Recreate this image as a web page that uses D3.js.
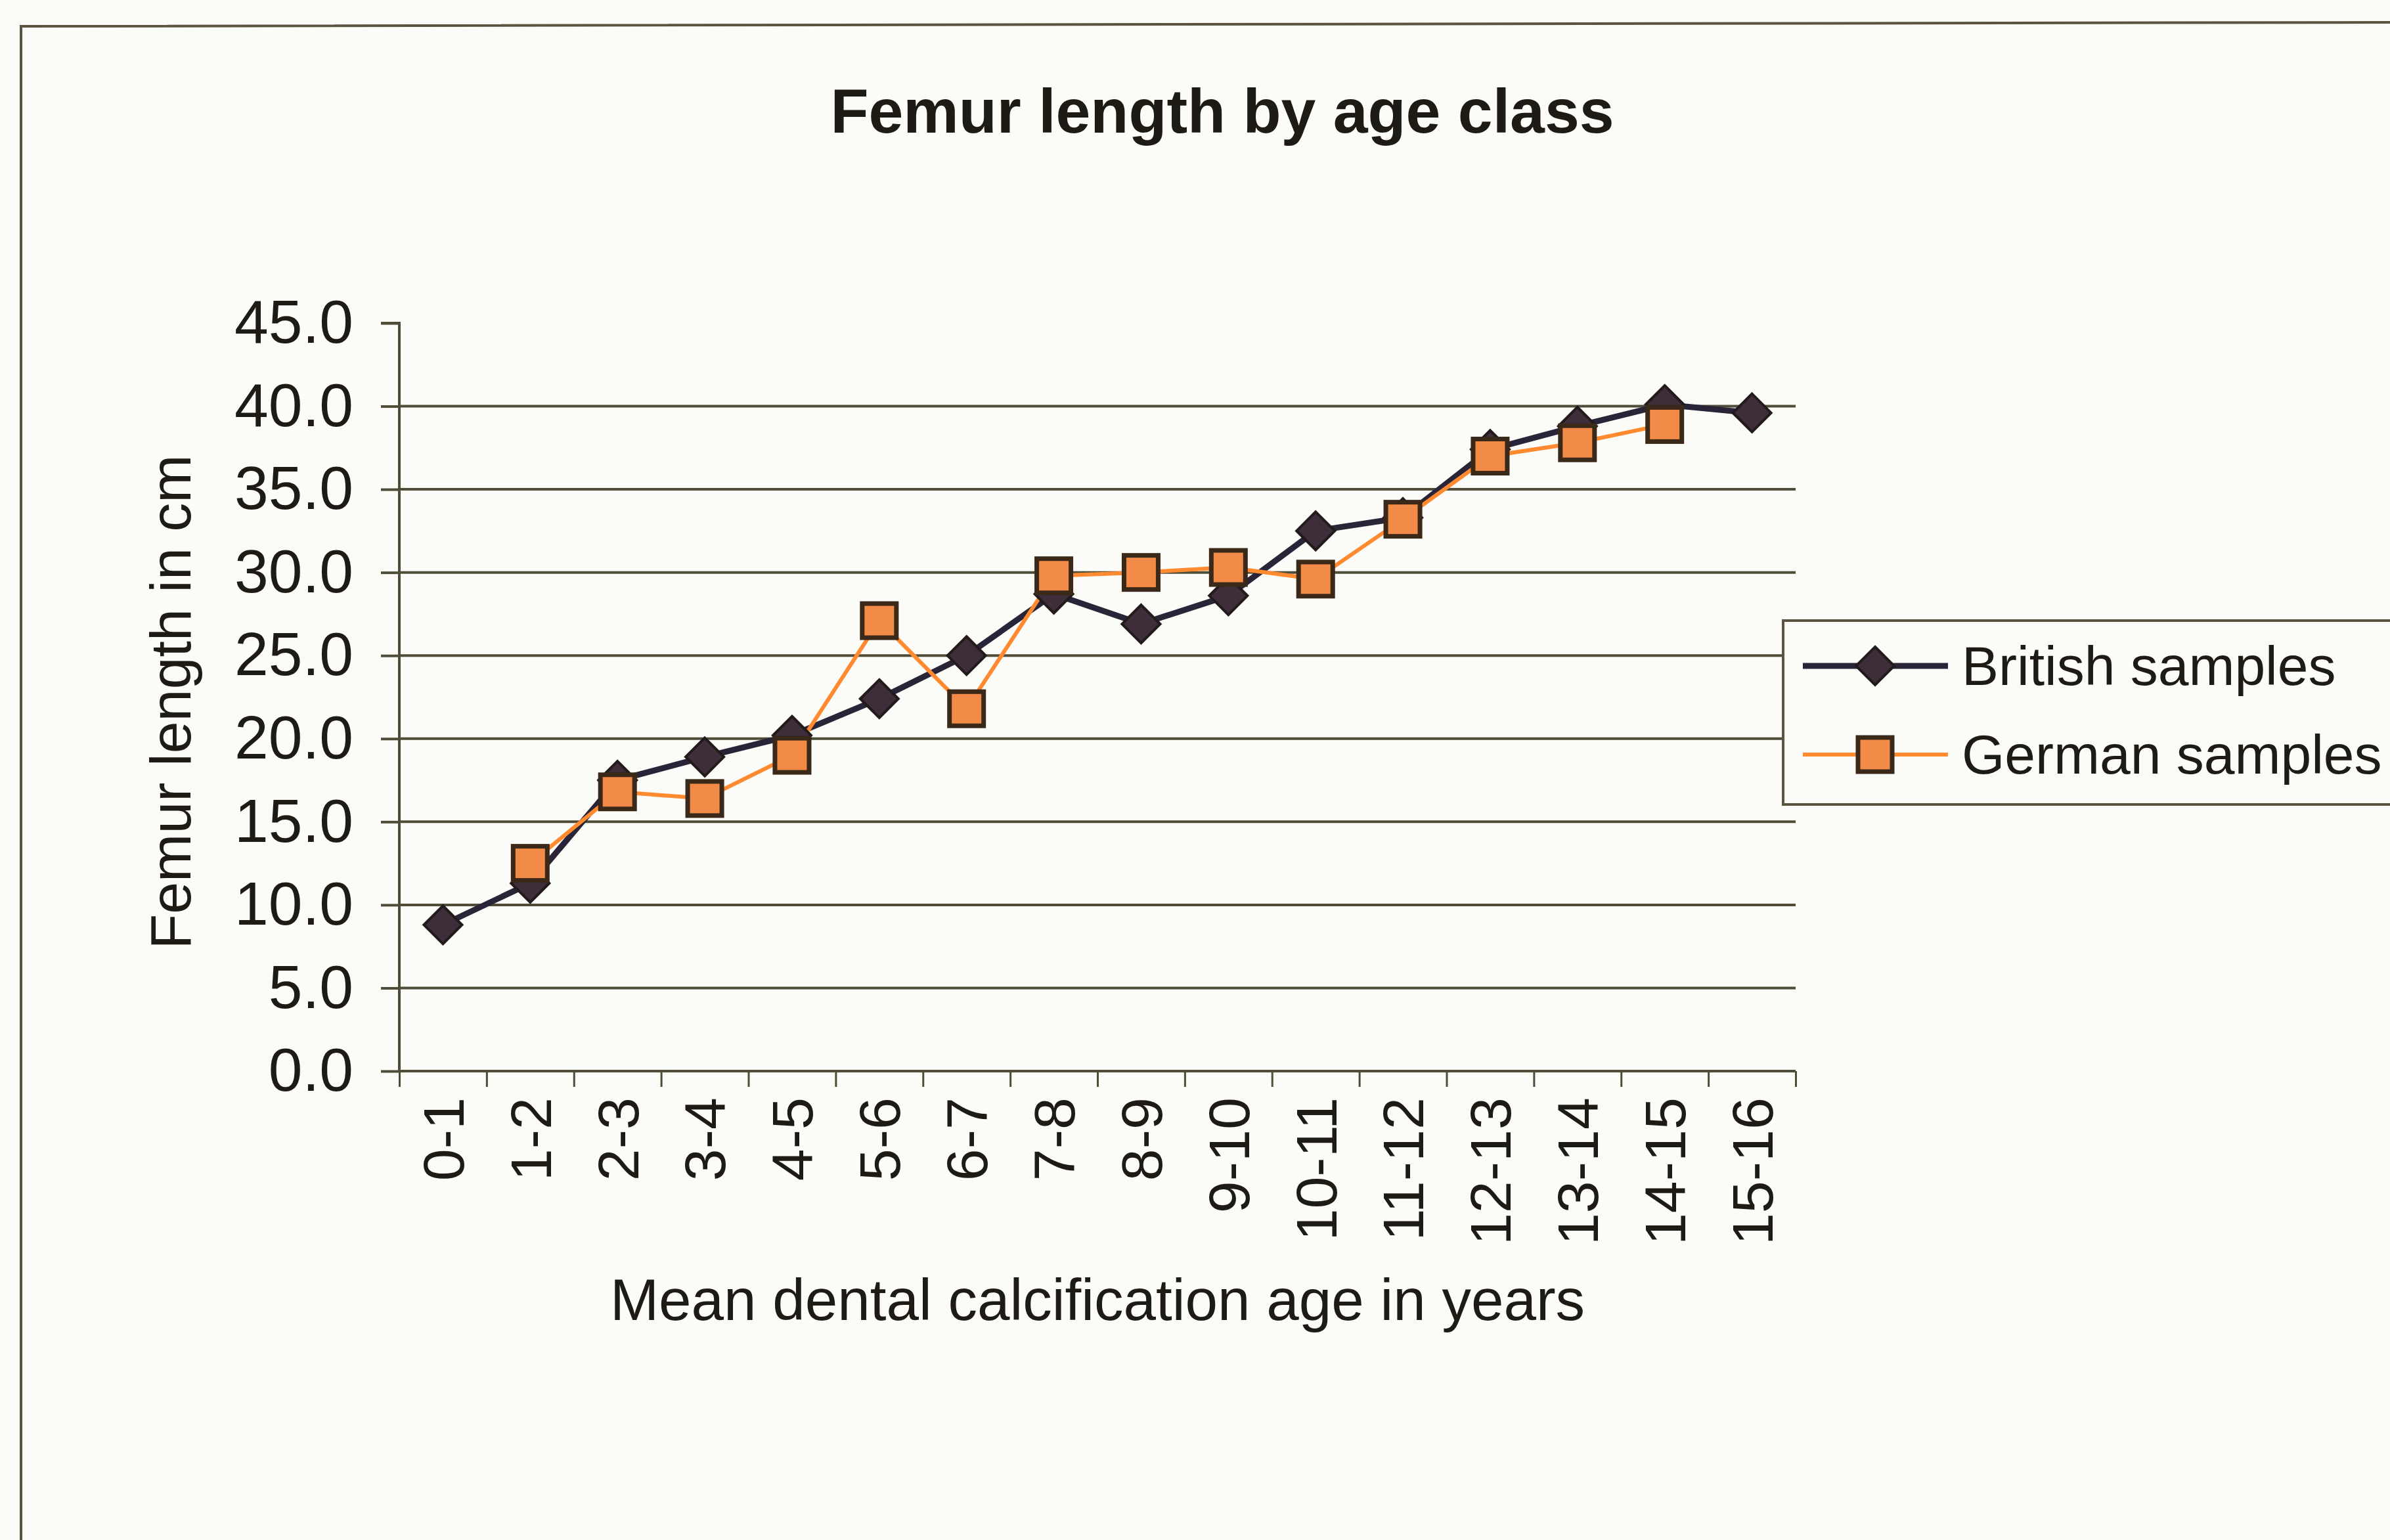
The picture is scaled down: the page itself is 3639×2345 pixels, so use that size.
<!DOCTYPE html>
<html>
<head>
<meta charset="utf-8">
<script src="https://cdn.jsdelivr.net/npm/d3@7"></script>
<style>
  html, body { margin: 0; padding: 0; background: #fbfbf8; }
  svg { display: block; font-family: "Liberation Sans", Arial, sans-serif; }
</style>
</head>
<body>
<div class="chart"></div>
<script>
const ageClasses = ['0-1', '1-2', '2-3', '3-4', '4-5', '5-6', '6-7', '7-8', '8-9', '9-10',
  '10-11', '11-12', '12-13', '13-14', '14-15', '15-16'];
const britishSamples = [8.8, 11.3, 17.5, 18.9, 20.2, 22.4, 25.0, 28.7, 26.9, 28.6,
  32.5, 33.3, 37.4, 38.8, 40.1, 39.6];
const germanSamples = [null, 12.5, 16.8, 16.4, 19.0, 27.1, 21.8, 29.8, 30.0, 30.3,
  29.6, 33.2, 37.0, 37.8, 38.9, null];
const yTicks = [0, 5, 10, 15, 20, 25, 30, 35, 40, 45];

const W = 3639, H = 2345;
const plot = {left: 608, right: 2734, top: 492, bottom: 1631};
const ink = '#1e1a14';
const gridColor = '#4f4d38';

const svg = d3.select('.chart')
  .append('svg')
  .attr('width', W)
  .attr('height', H);

svg.append('rect').attr('width', W).attr('height', H).attr('fill', '#fbfbf8');

// outer chart frame (right and bottom edges fall outside the picture)
svg.append('path')
  .attr('d', `M32,${H + 10} L32,40 L${W + 10},34`)
  .attr('fill', 'none')
  .attr('stroke', '#5a5440')
  .attr('stroke-width', 4);

const x = d3.scalePoint()
  .domain(ageClasses)
  .range([plot.left, plot.right])
  .padding(0.5);

const xEdges = d3.scaleLinear()
  .domain([0, ageClasses.length])
  .range([plot.left, plot.right]);

const y = d3.scaleLinear()
  .domain([0, 45])
  .range([plot.bottom, plot.top]);

// horizontal gridlines
svg.append('g')
  .selectAll('line')
  .data(yTicks.filter(d => d > 0 && d < 45))
  .enter()
  .append('line')
  .attr('x1', plot.left)
  .attr('x2', plot.right)
  .attr('y1', d => y(d))
  .attr('y2', d => y(d))
  .attr('stroke', gridColor)
  .attr('stroke-width', 4);

// y axis
const yAxis = svg.append('g')
  .attr('transform', `translate(${plot.left}, 0)`)
  .call(d3.axisLeft(y).tickValues(yTicks).tickFormat(d3.format('.1f')).tickSize(28).tickPadding(42));
yAxis.select('.domain').attr('stroke', gridColor).attr('stroke-width', 4)
  .attr('d', `M-28,${plot.top}H0V${plot.bottom}`);
yAxis.selectAll('.tick line').attr('stroke', gridColor).attr('stroke-width', 4);
yAxis.selectAll('.tick text')
  .attr('fill', ink)
  .style('font-size', '93px')
  .style('font-family', '"Liberation Sans", Arial, sans-serif');

// x axis: tick marks on category boundaries
const xTickAxis = svg.append('g')
  .attr('transform', `translate(0, ${plot.bottom})`)
  .call(d3.axisBottom(xEdges).tickValues(d3.range(ageClasses.length + 1)).tickSize(24).tickFormat(''));
xTickAxis.select('.domain').attr('stroke', gridColor).attr('stroke-width', 4)
  .attr('d', `M${plot.left},0H${plot.right}`);
xTickAxis.selectAll('.tick line').attr('stroke', gridColor).attr('stroke-width', 3);

// x axis labels, rotated
const xLabelAxis = svg.append('g')
  .attr('transform', `translate(0, ${plot.bottom})`)
  .call(d3.axisBottom(x).tickSize(0));
xLabelAxis.select('.domain').remove();
xLabelAxis.selectAll('.tick text')
  .attr('transform', 'rotate(-90)')
  .attr('text-anchor', 'end')
  .attr('x', -40)
  .attr('y', 0)
  .attr('dy', '0.35em')
  .attr('fill', ink)
  .style('font-size', '88px')
  .style('font-family', '"Liberation Sans", Arial, sans-serif');

// series
const lineFor = d3.line()
  .defined(d => d.v !== null)
  .x(d => x(d.c))
  .y(d => y(d.v));

const british = ageClasses.map((c, i) => ({c, v: britishSamples[i]}));
const german = ageClasses.map((c, i) => ({c, v: germanSamples[i]}));

svg.append('path')
  .datum(british)
  .attr('d', lineFor)
  .attr('fill', 'none')
  .attr('stroke', '#2a2438')
  .attr('stroke-width', 9);

svg.append('path')
  .datum(german)
  .attr('d', lineFor)
  .attr('fill', 'none')
  .attr('stroke', '#ff8a30')
  .attr('stroke-width', 6);

const diamond = (cx, cy, r) => `M${cx},${cy - r}L${cx + r},${cy}L${cx},${cy + r}L${cx - r},${cy}Z`;

svg.append('g')
  .selectAll('path')
  .data(british.filter(d => d.v !== null))
  .enter()
  .append('path')
  .attr('d', d => diamond(x(d.c), y(d.v), 29))
  .attr('fill', '#3d2e3a')
  .attr('stroke', '#231a1c')
  .attr('stroke-width', 4);

svg.append('g')
  .selectAll('rect')
  .data(german.filter(d => d.v !== null))
  .enter()
  .append('rect')
  .attr('x', d => x(d.c) - 26)
  .attr('y', d => y(d.v) - 26)
  .attr('width', 52)
  .attr('height', 52)
  .attr('fill', '#f28a48')
  .attr('stroke', '#3a2818')
  .attr('stroke-width', 7);

// title
svg.append('text')
  .attr('x', 1861)
  .attr('y', 202)
  .attr('text-anchor', 'middle')
  .attr('fill', ink)
  .style('font-size', '95px')
  .style('font-weight', 'bold')
  .text('Femur length by age class');

// axis titles
svg.append('text')
  .attr('transform', 'translate(290, 1069) rotate(-90)')
  .attr('text-anchor', 'middle')
  .attr('fill', ink)
  .style('font-size', '88px')
  .text('Femur length in cm');

svg.append('text')
  .attr('x', (plot.left + plot.right) / 2)
  .attr('y', 2010)
  .attr('text-anchor', 'middle')
  .attr('fill', ink)
  .style('font-size', '89px')
  .text('Mean dental calcification age in years');

// legend
const legend = svg.append('g');
legend.append('rect')
  .attr('x', 2715)
  .attr('y', 945)
  .attr('width', 1100)
  .attr('height', 280)
  .attr('fill', '#fbfbf8')
  .attr('stroke', '#5a5440')
  .attr('stroke-width', 4);

const legendItems = [
  {name: 'British samples', y: 1014, color: '#2a2438', width: 9, marker: 'diamond'},
  {name: 'German samples', y: 1149, color: '#ff8a30', width: 6, marker: 'square'},
];

legendItems.forEach(item => {
  legend.append('line')
    .attr('x1', 2745).attr('x2', 2966)
    .attr('y1', item.y).attr('y2', item.y)
    .attr('stroke', item.color)
    .attr('stroke-width', item.width);
  if (item.marker === 'diamond') {
    legend.append('path')
      .attr('d', diamond(2855, item.y, 29))
      .attr('fill', '#3d2e3a')
      .attr('stroke', '#231a1c')
      .attr('stroke-width', 4);
  } else {
    legend.append('rect')
      .attr('x', 2855 - 26).attr('y', item.y - 26)
      .attr('width', 52).attr('height', 52)
      .attr('fill', '#f28a48')
      .attr('stroke', '#3a2818')
      .attr('stroke-width', 7);
  }
  legend.append('text')
    .attr('x', 2987)
    .attr('y', item.y)
    .attr('dy', '0.35em')
    .attr('fill', ink)
    .style('font-size', '84px')
    .text(item.name);
});
</script>
</body>
</html>
